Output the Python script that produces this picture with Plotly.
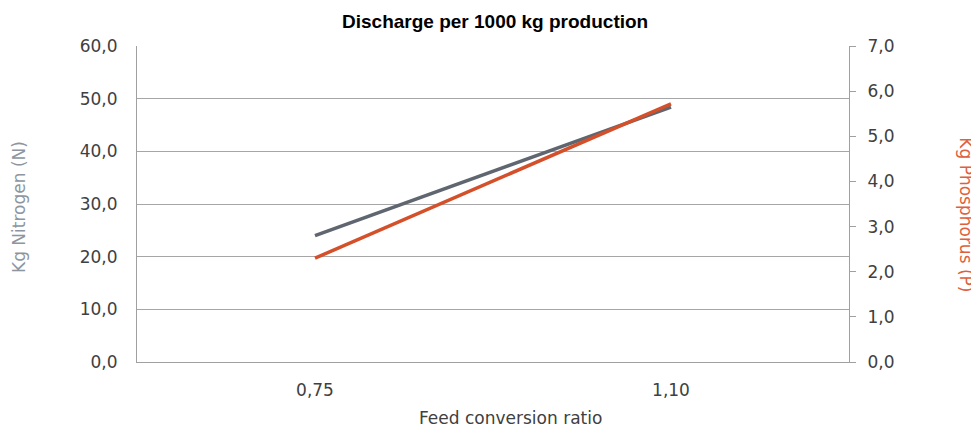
import plotly.graph_objects as go

categories = ["0,75", "1,10"]
nitrogen = [24.0, 48.4]
phosphorus = [2.3, 5.72]

title_text = "Discharge per 1000 kg production"
x_title = "Feed conversion ratio"
y_title = "Kg Nitrogen (N)"
y2_title = "Kg Phosphorus (P)"

FONT = "DejaVu Sans, sans-serif"
tick_font = dict(family=FONT, size=17, color="#404040")

# page body has an 8px margin, so the figure is drawn 8px smaller
fig = go.Figure()
fig.add_trace(go.Scatter(x=categories, y=nitrogen, mode="lines", name="N",
                         line=dict(color="#5f6670", width=3.5), yaxis="y"))
fig.add_trace(go.Scatter(x=categories, y=phosphorus, mode="lines", name="P",
                         line=dict(color="#d4502a", width=3.5), yaxis="y2"))

fig.update_layout(
    width=971, height=419,
    margin=dict(l=129, r=130, t=38, b=65),
    paper_bgcolor="white", plot_bgcolor="white",
    separators=",.",
    showlegend=False,
    xaxis=dict(type="category", range=[-0.5, 1.5], showgrid=False, automargin=False,
               showline=True, linecolor="#a0a0a0", linewidth=1.2,
               ticks="", tickfont=tick_font, ticklabelstandoff=12),
    yaxis=dict(range=[0, 60], dtick=10, tickformat=".1f", automargin=False,
               showgrid=True, gridcolor="#a6a6a6", gridwidth=1.2,
               showline=True, linecolor="#a0a0a0", linewidth=1.2,
               zeroline=False, ticks="", tickfont=tick_font, ticklabelstandoff=15),
    yaxis2=dict(range=[0, 7], dtick=1, tickformat=".1f", overlaying="y", side="right",
                automargin=False,
                showgrid=False, showline=True, linecolor="#a0a0a0", linewidth=1.2,
                zeroline=False, ticks="outside", ticklen=6, tickcolor="#a0a0a0",
                tickfont=tick_font, ticklabelstandoff=8),
    annotations=[
        dict(text="<b>" + title_text + "</b>", xref="paper", yref="paper",
             x=0.503, y=1.079, xanchor="center", yanchor="middle", showarrow=False,
             font=dict(family="Liberation Sans, Arial, sans-serif", size=19, color="#000000")),
        dict(text=x_title, xref="paper", yref="paper", x=0.524, y=-0.177,
             xanchor="center", yanchor="middle", showarrow=False,
             font=dict(family=FONT, size=17, color="#404040")),
        dict(text=y_title, xref="paper", yref="paper", x=-0.166, y=0.49,
             xanchor="center", yanchor="middle", textangle=-90, showarrow=False,
             font=dict(family=FONT, size=17, color="#8d96a0")),
        dict(text=y2_title, xref="paper", yref="paper", x=1.164, y=0.465,
             xanchor="center", yanchor="middle", textangle=90, showarrow=False,
             font=dict(family=FONT, size=17, color="#e0603c")),
    ],
)

fig.write_html("out.html")
